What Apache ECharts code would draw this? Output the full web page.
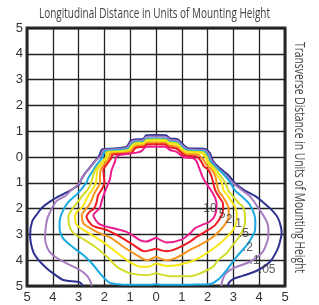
<!DOCTYPE html>
<html>
<head>
<meta charset="utf-8">
<script src="https://cdn.jsdelivr.net/npm/echarts/dist/echarts.min.js"></script>
<style>
  html, body { margin: 0; padding: 0; background: #fff; }
  #chart { width: 319px; height: 305px; }
</style>
</head>
<body>
<div id="chart"></div>
<script>
// tick labels (distance from the luminaire, both directions)
const tickLabels = [5, 4, 3, 2, 1, 0, 1, 2, 3, 4, 5]

// contour levels, outside -> inside
const levelNames = ['.05', '.1', '.2', '.5', '1', '2', '5', '10']
const levelColors = ['#2e3192', '#a67cc0', '#1ba9e1', '#d4dc2a', '#f9e716', '#f7941e', '#ee1d25', '#ec1c8e']

// label spots for each level [x, y]
const levelLabelPos = [
  [4.31, -4.38], [3.82, -4.02], [3.56, -3.52], [3.41, -2.97],
  [3.2, -2.6], [2.83, -2.44], [2.56, -2.25], [2.09, -2.02]
]

// isolines, [x, y] in mounting heights
const iso005 = [[-2.82,-5.0],[-2.95,-4.86],[-3.59,-4.77],[-4.0,-4.5],[-4.24,-4.31],[-4.55,-4.0],[-4.76,-3.67],[-4.88,-3.02],[-4.8,-2.5],[-4.6,-2.2],[-4.4,-1.95],[-4.11,-1.73],[-3.72,-1.5],[-3.3,-1.28],[-2.98,-1.08],[-2.9,-0.88],[-2.8,-0.7],[-2.6,-0.45],[-2.4,-0.2],[-2.2,0.05],[-2.08,0.3],[-1.6,0.33],[-1.14,0.4],[-1.0,0.6],[-0.85,0.68],[-0.5,0.7],[-0.38,0.84],[0.0,0.85],[0.38,0.84],[0.55,0.72],[0.85,0.68],[1.06,0.47],[1.25,0.34],[1.9,0.31],[2.09,0.14],[2.22,-0.18],[2.48,-0.44],[2.8,-0.7],[3.0,-0.95],[3.13,-1.08],[3.45,-1.3],[3.85,-1.52],[4.15,-1.75],[4.48,-2.05],[4.72,-2.35],[4.84,-2.7],[4.87,-2.96],[4.8,-3.3],[4.7,-3.6],[4.42,-4.06],[3.97,-4.38],[3.38,-4.6],[3.0,-4.72],[2.82,-4.88],[2.78,-5.0]]
const iso01 = [[-2.49,-5.0],[-2.55,-4.8],[-2.68,-4.6],[-2.95,-4.38],[-3.59,-4.06],[-4.0,-3.8],[-4.2,-3.55],[-4.3,-3.15],[-4.27,-2.7],[-4.2,-2.35],[-4.04,-2.0],[-3.85,-1.7],[-3.5,-1.5],[-3.3,-1.3],[-3.0,-1.05],[-2.88,-0.85],[-2.75,-0.65],[-2.5,-0.35],[-2.3,-0.1],[-2.12,0.05],[-2.04,0.26],[-1.6,0.3],[-1.12,0.36],[-0.97,0.56],[-0.85,0.63],[-0.5,0.65],[-0.38,0.78],[0.0,0.79],[0.38,0.78],[0.54,0.67],[0.83,0.63],[1.04,0.43],[1.22,0.3],[1.88,0.27],[2.05,0.1],[2.18,-0.2],[2.42,-0.45],[2.72,-0.72],[2.95,-0.98],[3.12,-1.12],[3.35,-1.3],[3.64,-1.52],[3.88,-1.85],[4.12,-2.2],[4.32,-2.57],[4.36,-2.9],[4.33,-3.22],[4.12,-3.7],[3.64,-4.06],[3.0,-4.31],[2.7,-4.52],[2.58,-4.75],[2.53,-5.0]]
const iso02 = [[-1.35,-4.94],[-1.78,-4.88],[-2.0,-4.7],[-2.17,-4.51],[-2.49,-4.12],[-2.82,-3.8],[-3.33,-3.41],[-3.6,-3.15],[-3.72,-2.9],[-3.74,-2.6],[-3.72,-2.38],[-3.59,-2.05],[-3.4,-1.75],[-3.07,-1.45],[-2.85,-1.2],[-2.69,-0.98],[-2.62,-0.8],[-2.49,-0.6],[-2.3,-0.3],[-2.08,-0.02],[-1.98,0.22],[-1.55,0.26],[-1.1,0.31],[-0.94,0.5],[-0.82,0.58],[-0.48,0.6],[-0.37,0.71],[0.0,0.72],[0.37,0.71],[0.53,0.6],[0.82,0.57],[1.02,0.38],[1.2,0.26],[1.85,0.23],[2.0,0.05],[2.13,-0.22],[2.35,-0.42],[2.6,-0.65],[2.85,-0.95],[3.07,-1.3],[3.35,-1.55],[3.62,-1.82],[3.8,-2.2],[3.85,-2.5],[3.84,-2.83],[3.72,-3.1],[3.55,-3.38],[3.13,-3.86],[2.95,-4.1],[2.74,-4.38],[2.41,-4.75],[2.1,-4.92],[1.6,-4.94],[1.0,-4.95],[0.2,-4.95],[0.0,-4.93],[-0.2,-4.95],[-0.8,-4.95],[-1.35,-4.94]]
const iso05 = [[0.0,-4.5],[-0.36,-4.58],[-1.01,-4.51],[-1.3,-4.38],[-1.52,-4.25],[-1.91,-3.86],[-2.36,-3.48],[-2.88,-3.15],[-3.2,-2.95],[-3.35,-2.7],[-3.4,-2.31],[-3.3,-2.1],[-3.2,-1.95],[-3.0,-1.7],[-2.85,-1.5],[-2.6,-1.2],[-2.52,-1.0],[-2.45,-0.78],[-2.36,-0.5],[-2.15,-0.25],[-1.95,-0.02],[-1.92,0.19],[-1.5,0.22],[-1.08,0.27],[-0.92,0.47],[-0.8,0.54],[-0.47,0.56],[-0.36,0.67],[0.0,0.68],[0.36,0.67],[0.52,0.56],[0.81,0.53],[1.0,0.34],[1.18,0.22],[1.82,0.19],[1.97,0.0],[2.08,-0.24],[2.3,-0.45],[2.48,-0.7],[2.69,-1.0],[2.8,-1.3],[3.0,-1.55],[3.23,-1.8],[3.38,-1.95],[3.45,-2.3],[3.45,-2.57],[3.36,-2.85],[3.22,-3.1],[2.95,-3.45],[2.74,-3.73],[2.4,-4.0],[2.22,-4.25],[1.71,-4.51],[1.32,-4.62],[0.8,-4.62],[0.4,-4.6],[0.0,-4.5]]
const iso1 = [[0.0,-4.12],[-0.3,-4.25],[-0.62,-4.25],[-1.14,-3.99],[-1.65,-3.6],[-2.17,-3.22],[-2.69,-2.9],[-3.07,-2.64],[-3.14,-2.31],[-3.05,-2.1],[-2.91,-2.0],[-2.75,-1.75],[-2.63,-1.5],[-2.45,-1.25],[-2.33,-1.0],[-2.3,-0.75],[-2.27,-0.5],[-2.08,-0.25],[-1.88,0.0],[-1.86,0.16],[-1.45,0.19],[-1.05,0.24],[-0.9,0.44],[-0.78,0.5],[-0.46,0.52],[-0.36,0.62],[0.0,0.63],[0.36,0.62],[0.5,0.52],[0.8,0.49],[0.98,0.3],[1.15,0.18],[1.75,0.15],[1.92,-0.02],[2.02,-0.25],[2.2,-0.45],[2.3,-0.6],[2.55,-1.0],[2.62,-1.3],[2.78,-1.5],[2.95,-1.75],[3.06,-1.93],[3.13,-2.2],[3.13,-2.44],[3.05,-2.7],[2.93,-2.9],[2.48,-3.35],[1.96,-3.73],[1.6,-3.95],[1.32,-4.06],[0.8,-4.2],[0.4,-4.22],[0.0,-4.12]]
const iso2 = [[0.0,-3.86],[-0.35,-4.0],[-0.75,-3.8],[-1.27,-3.48],[-1.72,-3.15],[-2.3,-2.9],[-2.65,-2.7],[-2.82,-2.57],[-2.88,-2.25],[-2.75,-2.05],[-2.62,-1.9],[-2.5,-1.7],[-2.43,-1.5],[-2.3,-1.25],[-2.17,-1.0],[-2.17,-0.8],[-2.14,-0.5],[-1.97,-0.25],[-1.8,-0.02],[-1.78,0.12],[-1.4,0.15],[-1.0,0.2],[-0.85,0.38],[-0.75,0.44],[-0.45,0.46],[-0.36,0.54],[0.0,0.55],[0.36,0.54],[0.5,0.45],[0.8,0.4],[0.98,0.22],[1.15,0.12],[1.65,0.08],[1.82,-0.08],[1.95,-0.3],[2.16,-0.5],[2.3,-0.75],[2.35,-1.0],[2.42,-1.3],[2.6,-1.55],[2.8,-1.93],[2.82,-2.31],[2.61,-2.7],[2.22,-3.09],[1.71,-3.41],[1.32,-3.6],[0.8,-3.9],[0.4,-4.0],[0.0,-3.86]]
const iso5 = [[0.0,-3.55],[-0.45,-3.65],[-0.88,-3.41],[-1.4,-3.09],[-1.91,-2.83],[-2.3,-2.72],[-2.49,-2.64],[-2.69,-2.31],[-2.55,-2.1],[-2.4,-2.0],[-2.3,-1.75],[-2.25,-1.5],[-2.1,-1.25],[-2.0,-1.0],[-2.02,-0.75],[-2.04,-0.5],[-1.88,-0.25],[-1.72,-0.02],[-1.7,0.08],[-1.35,0.12],[-0.95,0.15],[-0.82,0.33],[-0.7,0.38],[-0.45,0.4],[-0.36,0.48],[0.0,0.49],[0.36,0.48],[0.5,0.38],[0.8,0.32],[1.0,0.14],[1.15,0.05],[1.55,0.02],[1.72,-0.12],[1.85,-0.35],[2.03,-0.5],[2.15,-0.75],[2.22,-1.0],[2.3,-1.3],[2.45,-1.55],[2.6,-1.82],[2.6,-2.0],[2.55,-2.25],[2.29,-2.64],[1.9,-2.9],[1.58,-3.09],[1.32,-3.28],[0.8,-3.55],[0.4,-3.65],[0.0,-3.55]]
const iso10 = [[0.0,-3.12],[-0.4,-3.28],[-0.62,-3.22],[-1.14,-2.9],[-1.65,-2.76],[-2.0,-2.68],[-2.24,-2.57],[-2.43,-2.25],[-2.3,-2.1],[-2.19,-2.0],[-2.1,-1.7],[-1.98,-1.34],[-1.88,-1.1],[-1.78,-0.83],[-1.72,-0.5],[-1.59,-0.18],[-1.55,0.0],[-1.4,0.08],[-0.75,0.17],[-0.55,0.24],[-0.45,0.35],[-0.36,0.4],[0.0,0.4],[0.35,0.4],[0.54,0.27],[0.8,0.2],[1.06,0.0],[1.45,-0.05],[1.58,-0.18],[1.7,-0.5],[1.83,-0.83],[2.0,-1.1],[2.16,-1.34],[2.3,-1.6],[2.35,-1.85],[2.29,-2.25],[2.09,-2.5],[1.77,-2.64],[1.51,-2.76],[1.32,-2.96],[1.0,-3.2],[0.41,-3.31],[0.0,-3.12]]

const isolines = [iso005, iso01, iso02, iso05, iso1, iso2, iso5, iso10]

const topTitle = 'Longitudinal Distance in Units of Mounting Height'
const sideTitle = 'Transverse Distance in Units of Mounting Height'

// the titles use a condensed face, squeeze a normal one to the same width
const titleFont = '14px "Open Sans"'
function squeeze(text, width) {
  const ctx = document.createElement('canvas').getContext('2d')
  ctx.font = titleFont
  return width / ctx.measureText(text).width
}

const chart = echarts.init(document.getElementById('chart'))

const series = isolines.map((pts, i) => ({
  name: levelNames[i],
  type: 'line',
  data: pts,
  showSymbol: false,
  smooth: 0.25,
  lineStyle: { color: levelColors[i], width: 2 },
  z: 3 + i
}))

// level numbers
series.push({
  type: 'scatter',
  symbolSize: 1,
  itemStyle: { color: 'rgba(0,0,0,0)' },
  z: 20,
  data: levelLabelPos.map((p, i) => ({ value: p, name: levelNames[i] })),
  label: {
    show: true,
    position: 'inside',
    formatter: (p) => p.name,
    color: '#333',
    fontSize: 12,
    fontFamily: '"Liberation Sans", Arial, sans-serif'
  }
})

const tickLabel = {
  color: '#333',
  fontSize: 13,
  fontFamily: '"Liberation Sans", Arial, sans-serif',
  formatter: (v) => tickLabels[v + 5]
}
const gridLine = { show: true, lineStyle: { color: '#222', width: 1.3 } }

chart.setOption({
  animation: false,
  backgroundColor: '#fff',
  grid: {
    left: 27, top: 28, width: 258, height: 258,
    show: true,
    borderColor: '#2a2a2a',
    borderWidth: 3
  },
  xAxis: {
    type: 'value', min: -5, max: 5, interval: 1,
    axisLine: { show: false }, axisTick: { show: false },
    axisLabel: Object.assign({ margin: 5 }, tickLabel),
    splitLine: gridLine
  },
  yAxis: {
    type: 'value', min: -5, max: 5, interval: 1,
    axisLine: { show: false }, axisTick: { show: false },
    axisLabel: Object.assign({ margin: 4 }, tickLabel),
    splitLine: gridLine
  },
  graphic: [
    {
      type: 'text', x: 154.5, y: 14,
      scaleX: squeeze(topTitle, 231),
      style: { text: topTitle, font: titleFont, fill: '#444', align: 'center', verticalAlign: 'middle' }
    },
    {
      type: 'text', x: 299, y: 157.5,
      rotation: -Math.PI / 2,
      scaleX: squeeze(sideTitle, 231),
      style: { text: sideTitle, font: titleFont, fill: '#444', align: 'center', verticalAlign: 'middle' }
    }
  ],
  series: series
})
</script>
</body>
</html>
